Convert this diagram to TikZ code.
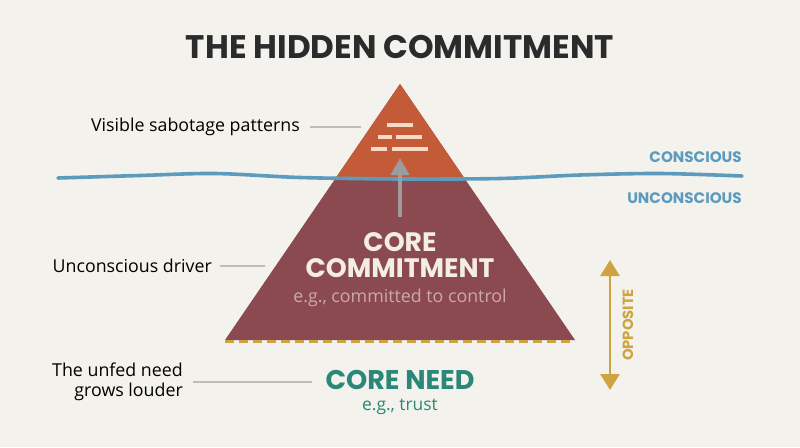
\documentclass[tikz,border=0pt]{standalone}
\usepackage{fontspec}
\setmainfont{Open Sans}
\newfontfamily\pop{Poppins}
\usetikzlibrary{arrows.meta}
\definecolor{bg}{HTML}{F3F2EC}
\definecolor{rust}{HTML}{C45B38}
\definecolor{maroon}{HTML}{8A4A4F}
\definecolor{wave}{HTML}{5C9BBE}
\definecolor{gold}{HTML}{CFA440}
\definecolor{teal}{HTML}{2A8878}
\definecolor{ink}{HTML}{2B2B2B}
\definecolor{cream}{HTML}{F4EDE2}
\definecolor{bar}{HTML}{F6DCC6}
\definecolor{pale}{HTML}{CBA9AA}
\definecolor{leader}{HTML}{BDBDB8}
\definecolor{arrowgray}{HTML}{9C9C9C}
\tikzset{
  lbl/.style={font=\fontsize{17.8}{20}\selectfont, text=black, inner sep=0pt, align=right},
  leadline/.style={draw=leader, line width=1.2pt},
  zone/.style={font=\pop\bfseries\fontsize{15.2}{17}\selectfont, text=wave, inner sep=0pt, anchor=east},
  barstyle/.style={fill=bar}
}
\begin{document}
\begin{tikzpicture}[x=1pt,y=-1pt]
\fill[bg] (0,0) rectangle (800,447);
\useasboundingbox (0,0) rectangle (800,447);
% title
\node[font=\pop\bfseries\fontsize{32.6}{35}\selectfont, text=ink, inner sep=0pt] (title) at (400,47) {THE HIDDEN COMMITMENT};
% pyramid
\coordinate (apex) at (400,84);
\coordinate (bl) at (225,340);
\coordinate (br) at (575,340);
\fill[maroon] (apex) -- (bl) -- (br) -- cycle;
\begin{scope}
\clip (apex) -- (bl) -- (br) -- cycle;
\fill[rust] (58,60) -- (742,60) -- (742,176) -- plot[smooth] coordinates {(742,176) (660,173.5) (580,175) (500,178.5) (400,179) (300,177.5) (215,173.5) (140,175.5) (58,178)} -- cycle;
\end{scope}
% bars
\fill[barstyle] (387,123) rectangle (413,127);
\fill[barstyle] (378,135) rectangle (392,139);
\fill[barstyle] (396,135) rectangle (422,139);
\fill[barstyle] (371,147) rectangle (387,151);
\fill[barstyle] (392,147) rectangle (428,151);
% wave
\draw[wave, line width=3.6pt, line cap=round] plot[smooth] coordinates {(58,178) (140,175.5) (215,173.5) (300,177.5) (400,179) (500,178.5) (580,175) (660,173.5) (742,176)};
% gray arrow
\coordinate (arrS) at (400,217);
\coordinate (arrE) at (400,158);
\draw[arrowgray, line width=4pt, -{Triangle[length=17pt,width=18pt]}] (arrS) -- (arrE);
% base dashed line
\draw[gold, line width=3pt, dash pattern=on 9pt off 5pt] (bl) ++(0,1) -- ([yshift=-1pt]br);
% texts in pyramid
\node[font=\pop\bfseries\fontsize{26.7}{27}\selectfont, text=cream, inner sep=0pt] (core) at (400,242) {CORE};
\node[font=\pop\bfseries\fontsize{26.7}{27}\selectfont, text=cream, inner sep=0pt] (commit) at (400,268) {COMMITMENT};
\node[font=\fontsize{17.8}{20}\selectfont, text=pale, inner sep=0pt] (eg1) at (400,298) {e.g., committed to control};
% core need
\node[font=\pop\bfseries\fontsize{27}{27}\selectfont, text=teal, inner sep=0pt, text height=19pt, text depth=0pt] (need) at (400,380) {CORE NEED};
\node[font=\fontsize{17.4}{19}\selectfont, text=teal, inner sep=0pt, text height=12.5pt, text depth=3.5pt] (eg2) at (400,406) {e.g., trust};
% zone labels
\node[zone] (con) at (742,157) {CONSCIOUS};
\node[zone] (uncon) at (742,198) {UNCONSCIOUS};
% opposite arrow
\coordinate (opT) at (610,260);
\coordinate (opB) at (610,390);
\draw[gold, line width=2.8pt, {Triangle[length=16pt,width=19pt]}-{Triangle[length=16pt,width=19pt]}] (opT) -- (opB);
\node[font=\pop\bfseries\fontsize{14.8}{16}\selectfont, text=gold, rotate=90, inner sep=0pt] (opp) at (628,325) {OPPOSITE};
% left labels
\node[lbl, anchor=east] (vis) at (300,127) {Visible sabotage patterns};
\coordinate (visE) at (361,127);
\draw[leadline] ([xshift=10pt]vis.east) -- (visE);
\node[lbl, anchor=east] (drv) at (212,266) {Unconscious driver};
\coordinate (drvE) at (265,266);
\draw[leadline] ([xshift=8pt]drv.east) -- (drvE);
\node[lbl, anchor=east] (unfed) at (183,382) {The unfed need\\grows louder};
\coordinate (unfedE) at (312,382);
\draw[leadline] ([xshift=10pt]unfed.east) -- (unfedE);
\end{tikzpicture}
\end{document}
